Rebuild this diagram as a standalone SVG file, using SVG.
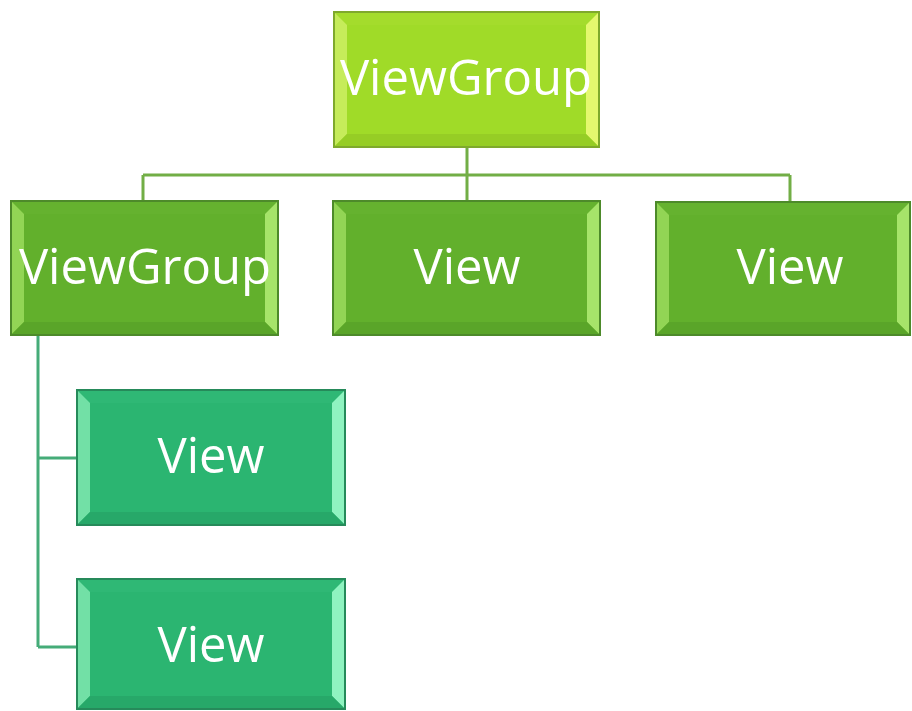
<svg xmlns="http://www.w3.org/2000/svg" width="912" height="711" viewBox="0 0 912 711">
<defs>
<style>
.lbl{font-family:"Open Sans","Noto Sans","DejaVu Sans",sans-serif;font-size:49px;fill:#ffffff;text-anchor:middle}
.c1{fill:none;stroke:#72ae46;stroke-width:3}
.c2{fill:none;stroke:#45ac78;stroke-width:3}
.lime .face{fill:#a0db28;stroke:#7fa92c;stroke-width:2}
.lime .bt{fill:#a4dc2c}.lime .bl{fill:#c6ec5a}.lime .br{fill:#e4f86e}.lime .bb{fill:#96cd25}
.grn .face{fill:#62b02c;stroke:#4d8a2a;stroke-width:2}
.grn .bt{fill:#65b22f}.grn .bl{fill:#92d555}.grn .br{fill:#a6e46a}.grn .bb{fill:#5aa529}
.tea .face{fill:#2bb571;stroke:#268a5a;stroke-width:2}
.tea .bt{fill:#2fb875}.tea .bl{fill:#72e0a6}.tea .br{fill:#8ff3c0}.tea .bb{fill:#27a869}
</style>
</defs>
<g id="connectors">
<path class="c1" d="M467 147 V175 M143 175 H790 M143 175 V201 M467 175 V201 M790 175 V202"/>
<path class="c2" d="M38 335 V647 M38 458 H77 M38 647 H77"/>
</g>
<g id="root" class="lime">
<rect class="face" x="334" y="12" width="265" height="135"/>
<polygon class="bt" points="335,13 598,13 586,25 347,25"/>
<polygon class="bl" points="335,13 347,25 347,134 335,146"/>
<polygon class="br" points="598,13 598,146 586,134 586,25"/>
<polygon class="bb" points="335,146 347,134 586,134 598,146"/>
<text class="lbl" x="466" y="95">ViewGroup</text>
</g>
<g id="vg2" class="grn">
<rect class="face" x="11" y="201" width="267" height="134"/>
<polygon class="bt" points="12,202 277,202 265,214 24,214"/>
<polygon class="bl" points="12,202 24,214 24,322 12,334"/>
<polygon class="br" points="277,202 277,334 265,322 265,214"/>
<polygon class="bb" points="12,334 24,322 265,322 277,334"/>
<text class="lbl" x="145" y="284">ViewGroup</text>
</g>
<g id="view-mid" class="grn">
<rect class="face" x="333" y="201" width="267" height="134"/>
<polygon class="bt" points="334,202 599,202 587,214 346,214"/>
<polygon class="bl" points="334,202 346,214 346,322 334,334"/>
<polygon class="br" points="599,202 599,334 587,322 587,214"/>
<polygon class="bb" points="334,334 346,322 587,322 599,334"/>
<text class="lbl" x="467" y="284">View</text>
</g>
<g id="view-right" class="grn">
<rect class="face" x="656" y="202" width="254" height="133"/>
<polygon class="bt" points="657,203 909,203 897,215 669,215"/>
<polygon class="bl" points="657,203 669,215 669,322 657,334"/>
<polygon class="br" points="909,203 909,334 897,322 897,215"/>
<polygon class="bb" points="657,334 669,322 897,322 909,334"/>
<text class="lbl" x="790" y="284">View</text>
</g>
<g id="view-child1" class="tea">
<rect class="face" x="77" y="390" width="268" height="135"/>
<polygon class="bt" points="78,391 344,391 332,403 90,403"/>
<polygon class="bl" points="78,391 90,403 90,512 78,524"/>
<polygon class="br" points="344,391 344,524 332,512 332,403"/>
<polygon class="bb" points="78,524 90,512 332,512 344,524"/>
<text class="lbl" x="211" y="473">View</text>
</g>
<g id="view-child2" class="tea">
<rect class="face" x="77" y="579" width="268" height="130"/>
<polygon class="bt" points="78,580 344,580 332,592 90,592"/>
<polygon class="bl" points="78,580 90,592 90,696 78,708"/>
<polygon class="br" points="344,580 344,708 332,696 332,592"/>
<polygon class="bb" points="78,708 90,696 332,696 344,708"/>
<text class="lbl" x="211" y="662">View</text>
</g>
</svg>
